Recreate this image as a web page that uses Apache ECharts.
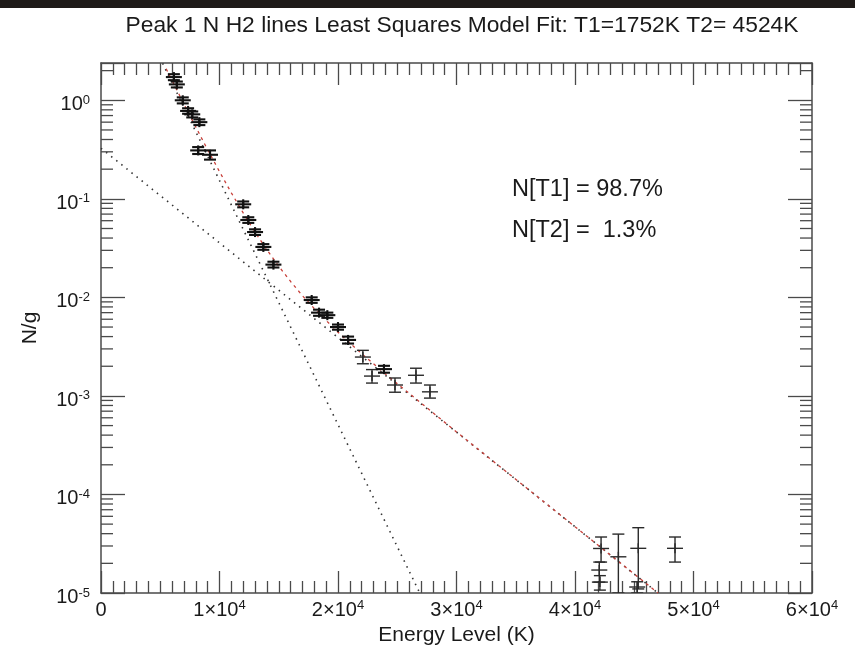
<!DOCTYPE html>
<html>
<head>
<meta charset="utf-8">
<script src="https://cdn.jsdelivr.net/npm/echarts@6/dist/echarts.min.js"></script>
<style>
	html, body { margin: 0; padding: 0; background: #ffffff; }
	#cn { width: 855px; height: 652px; }
</style>
</head>
<body>
<div id="cn"></div>
<script>
'use strict';

// measured lines: energy level (K), N/g, lower / upper error
const ENERGY = [6150, 6400, 6900, 7350, 7700, 8300, 8200, 9200,
	12000, 12430, 13000, 13700, 14550,
	17780, 18400, 19100, 20000, 20850,
	22100, 22870, 23880, 24810, 26580, 27760,
	42200, 42050, 42100, 43660, 45340, 45250, 48440];
const NG = [1.72, 1.45, 1.00, 0.78, 0.72, 0.60, 0.31, 0.28,
	0.088, 0.061, 0.046, 0.0325, 0.0215,
	0.0094, 0.0070, 0.0066, 0.0050, 0.0037,
	0.00248, 0.00159, 0.00187, 0.00129, 0.00162, 0.00110,
	2.83e-5, 1.71e-5, 1.29e-5, 2.33e-5, 2.84e-5, 1.15e-5, 2.84e-5];
const NG_LO = [1.60, 1.35, 0.93, 0.73, 0.67, 0.56, 0.285, 0.25,
	0.082, 0.057, 0.043, 0.0304, 0.0201,
	0.0088, 0.0065, 0.0062, 0.0047, 0.0034,
	0.00212, 0.00135, 0.00172, 0.00109, 0.00135, 0.00095,
	2.06e-5, 1.29e-5, 1.07e-5, 1.0e-5, 1.1e-5, 1.0e-5, 2.06e-5];
const NG_HI = [1.84, 1.55, 1.07, 0.83, 0.77, 0.64, 0.335, 0.31,
	0.094, 0.065, 0.049, 0.0347, 0.0230,
	0.0100, 0.0075, 0.0070, 0.0053, 0.0040,
	0.0029, 0.00185, 0.00202, 0.00152, 0.00191, 0.00129,
	3.7e-5, 2.06e-5, 1.5e-5, 3.96e-5, 4.6e-5, 1.3e-5, 3.7e-5];

const FIT_T1 = [[5200, 2.37], [26900, 1.0e-5]];
const FIT_T2 = [[0, 0.326], [47000, 1.0e-5]];
const FIT_TOTAL_E = [5500, 7000, 8000, 9000, 10000, 11000, 12000, 13000, 14000, 15000, 16000, 17000, 18000, 20000, 22000, 24000, 30000, 38000, 47000];
const FIT_TOTAL_NG = [2.09, 0.917, 0.535, 0.315, 0.189, 0.115, 0.0719, 0.0460, 0.0304, 0.0207, 0.0145, 0.0104, 0.00769, 0.00443, 0.00268, 0.00167, 4.31e-4, 7.33e-5, 1.0e-5];

const X_MIN = 0;
const X_MAX = 60000;
const X_STEP = 10000;
const Y_MIN = 1e-5;
const Y_MAX = 2.39;
const Y_MINOR_MANTISSA = [2, 3, 4, 5, 6, 7, 8, 9];
const Y_DECADES = [-5, -4, -3, -2, -1, 0];

const FONT = 'Liberation Sans';
const INK = '#1a1a1a';
const FRAME = '#4a4a4a';

const yMinor = [];
for (let d of Y_DECADES) {
	for (let m of Y_MINOR_MANTISSA) {
		const v = m * Math.pow(10, d);
		(v < Y_MAX) && yMinor.push(v);
	}
}

const richSup = {
	base: { fontSize: 20, fontFamily: FONT, color: INK, lineHeight: 22 },
	sup: { fontSize: 13, fontFamily: FONT, color: INK, lineHeight: 12, verticalAlign: 'top' }
};

const xLabel = v => {
	if (v === 0) return '{base|0}';
	return `{base|${v / X_STEP}×10}{sup|4}`;
};

const yLabel = v => {
	const e = Math.round(Math.log10(v));
	if (Math.abs(Math.log10(v) - e) > 1e-6) return '';
	return `{base|10}{sup|${e}}`;
};

// error bar + plus symbol (tight bars drawn heavier, like the original)
const renderPoint = (params, api) => {
	const x = api.value(0);
	const y = api.value(1);
	const c = api.coord([x, y]);
	const lo = api.coord([x, api.value(2)]);
	const hi = api.coord([x, api.value(3)]);
	const tight = (api.value(3) - api.value(2)) / y < 0.25;
	const st = tight ? { stroke: '#111', lineWidth: 2.1 } : { stroke: '#2a2a2a', lineWidth: 1.4 };
	const seg = (x1, y1, x2, y2) => ({ type: 'line', shape: { x1, y1, x2, y2 }, style: st });
	return {
		type: 'group',
		children: [
			seg(c[0] - 8, c[1], c[0] + 8, c[1]),
			seg(c[0], c[1] - 5, c[0], c[1] + 5),
			seg(c[0], lo[1], c[0], hi[1]),
			seg(c[0] - 6, lo[1], c[0] + 6, lo[1]),
			seg(c[0] - 6, hi[1], c[0] + 6, hi[1])
		]
	};
};

// log minor ticks on left and right frame
const renderMinor = (params, api) => {
	const v = api.value(0);
	const l = api.coord([X_MIN, v]);
	const r = api.coord([X_MAX, v]);
	const st = { stroke: FRAME, lineWidth: 1.3 };
	return {
		type: 'group',
		children: [
			{ type: 'line', shape: { x1: l[0], y1: l[1], x2: l[0] + 12, y2: l[1] }, style: st },
			{ type: 'line', shape: { x1: r[0] - 12, y1: r[1], x2: r[0], y2: r[1] }, style: st }
		]
	};
};

const xAxisBase = {
	type: 'value',
	min: X_MIN,
	max: X_MAX,
	interval: X_STEP,
	splitLine: { show: false },
	axisLine: { show: true, onZero: false, lineStyle: { color: FRAME, width: 1.5 } },
	axisTick: { show: true, inside: true, length: 22, lineStyle: { color: FRAME, width: 1.3 } },
	minorTick: { show: true, splitNumber: 10, length: 12, lineStyle: { color: FRAME, width: 1.3 } }
};

const yAxisBase = {
	type: 'log',
	logBase: 10,
	min: Y_MIN,
	max: Y_MAX,
	splitLine: { show: false },
	axisLine: { show: true, onZero: false, lineStyle: { color: FRAME, width: 1.5 } },
	axisTick: { show: true, inside: true, length: 24, lineStyle: { color: FRAME, width: 1.3 } }
};

const chart = echarts.init(document.getElementById('cn'));

chart.setOption({
	backgroundColor: '#ffffff',
	animation: false,
	title: {
		text: 'Peak 1 N H2 lines Least Squares Model Fit: T1=1752K T2= 4524K',
		left: 457,
		top: 9,
		textAlign: 'center',
		textStyle: { fontFamily: FONT, fontSize: 22.8, fontWeight: 'normal', color: INK }
	},
	grid: { left: 101, right: 43, top: 63, bottom: 59, outerBoundsMode: 'none' },
	xAxis: [{
		...xAxisBase,
		position: 'bottom',
		name: 'Energy Level (K)',
		nameLocation: 'middle',
		nameGap: 30,
		nameTextStyle: { fontFamily: FONT, fontSize: 21, color: INK },
		axisLabel: { margin: 6, formatter: xLabel, rich: richSup }
	}, {
		...xAxisBase,
		position: 'top',
		axisLabel: { show: false }
	}],
	yAxis: [{
		...yAxisBase,
		position: 'left',
		name: 'N/g',
		nameLocation: 'middle',
		nameGap: 60,
		nameTextStyle: { fontFamily: FONT, fontSize: 21, color: INK },
		axisLabel: { margin: 11, formatter: yLabel, rich: richSup, padding: [9, 0, 0, 0] }
	}, {
		...yAxisBase,
		position: 'right',
		axisLabel: { show: false }
	}],
	graphic: [{
		type: 'rect',
		shape: { x: 0, y: 0, width: 855, height: 8 },
		style: { fill: '#1f1b19' }
	}, {
		type: 'text',
		x: 512,
		y: 190,
		style: { text: 'N[T1] = 98.7%', font: `23.5px "${FONT}"`, fill: INK, verticalAlign: 'middle' }
	}, {
		type: 'text',
		x: 512,
		y: 231,
		style: { text: 'N[T2] =  1.3%', font: `23.5px "${FONT}"`, fill: INK, verticalAlign: 'middle' }
	}],
	series: [{
		type: 'custom',
		name: 'minor',
		xAxisIndex: 0,
		yAxisIndex: 0,
		renderItem: renderMinor,
		data: yMinor.map(v => [v]),
		encode: { y: 0 },
		silent: true
	}, {
		type: 'line',
		name: 'T2',
		data: FIT_T2,
		symbol: 'none',
		clip: true,
		lineStyle: { color: '#333', width: 1.6, type: [1.5, 5] }
	}, {
		type: 'line',
		name: 'T1',
		data: FIT_T1,
		symbol: 'none',
		clip: true,
		lineStyle: { color: '#333', width: 1.6, type: [1.5, 5] }
	}, {
		type: 'line',
		name: 'total',
		data: FIT_TOTAL_E.map((e, i) => [e, FIT_TOTAL_NG[i]]),
		symbol: 'none',
		clip: true,
		lineStyle: { color: '#c8403a', width: 1.3, type: [3, 4] }
	}, {
		type: 'custom',
		name: 'data',
		renderItem: renderPoint,
		clip: true,
		data: ENERGY.map((e, i) => [e, NG[i], NG_LO[i], NG_HI[i]]),
		encode: { x: 0, y: 1 },
		z: 5
	}]
});
</script>
</body>
</html>
